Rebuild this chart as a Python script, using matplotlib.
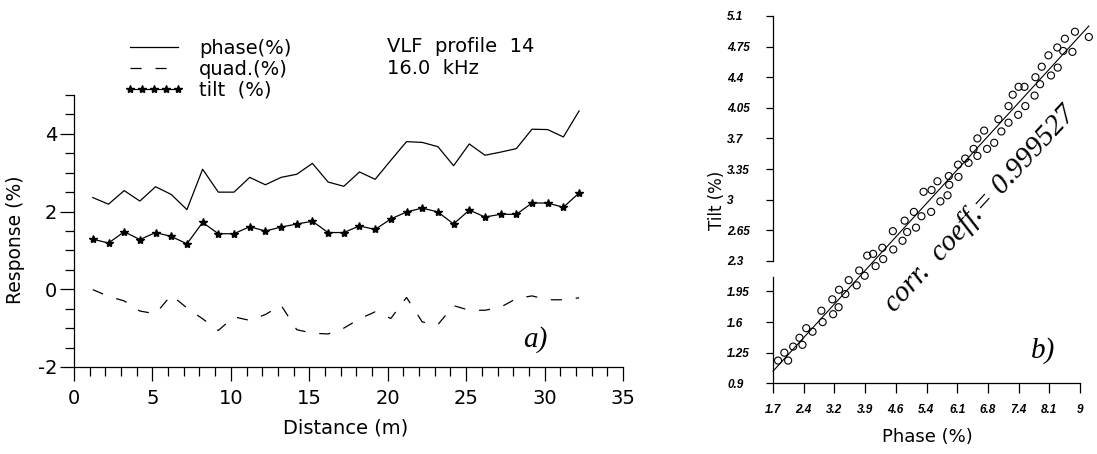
import numpy as np
import matplotlib
matplotlib.use("Agg")
import matplotlib.pyplot as plt
import matplotlib.transforms as mtransforms
from matplotlib.ticker import MultipleLocator

plt.rcParams['font.family'] = ['DejaVu Sans']
plt.rcParams['lines.scale_dashes'] = False
plt.rcParams['axes.unicode_minus'] = False

# panel a) - VLF profile 14, 16.0 kHz
distance = [1.2, 2.2, 3.2, 4.2, 5.2, 6.2, 7.2, 8.2, 9.2, 10.2, 11.2, 12.2, 13.2, 14.2, 15.2, 16.2,
            17.2, 18.2, 19.2, 20.2, 21.2, 22.2, 23.2, 24.2, 25.2, 26.2, 27.2, 28.2, 29.2, 30.2, 31.2, 32.2]
phase = [2.36, 2.19, 2.54, 2.27, 2.64, 2.44, 2.05, 3.09, 2.50, 2.50, 2.88, 2.69, 2.88, 2.96, 3.24, 2.76,
         2.65, 3.02, 2.83, 3.32, 3.80, 3.78, 3.67, 3.18, 3.74, 3.45, 3.53, 3.62, 4.12, 4.11, 3.92, 4.59]
quad = [-0.01, -0.18, -0.30, -0.56, -0.63, -0.15, -0.48, -0.76, -1.06, -0.71, -0.80, -0.65, -0.41, -1.04, -1.13, -1.15,
        -1.00, -0.76, -0.58, -0.75, -0.21, -0.84, -0.91, -0.42, -0.54, -0.54, -0.46, -0.24, -0.17, -0.27, -0.27, -0.22]
tilt = [1.29, 1.19, 1.48, 1.28, 1.46, 1.36, 1.17, 1.72, 1.43, 1.43, 1.61, 1.50, 1.60, 1.68, 1.75, 1.46,
        1.46, 1.63, 1.54, 1.81, 1.99, 2.09, 1.99, 1.68, 2.04, 1.86, 1.93, 1.93, 2.22, 2.22, 2.11, 2.48]

# panel b) - tilt vs phase scatter
phase_b = [1.82, 1.97, 2.06, 2.18, 2.33, 2.40, 2.49, 2.64, 2.85, 2.88, 3.11, 3.13, 3.27, 3.26, 3.42, 3.50,
           3.69, 3.75, 3.88, 3.94, 4.08, 4.14, 4.30, 4.32, 4.55, 4.56, 4.78, 4.83, 4.89, 5.05, 5.10, 5.23,
           5.28, 5.46, 5.47, 5.61, 5.68, 5.85, 5.88, 5.89, 6.11, 6.10, 6.27, 6.35, 6.47, 6.56, 6.56, 6.72,
           6.79, 6.96, 7.06, 7.13, 7.30, 7.30, 7.40, 7.53, 7.54, 7.70, 7.68, 7.92, 7.94, 8.05, 8.09, 8.31,
           8.25, 8.47, 8.46, 8.60, 8.64, 8.82, 8.88, 9.21]
tilt_b = [1.16, 1.25, 1.16, 1.32, 1.42, 1.34, 1.53, 1.49, 1.73, 1.60, 1.86, 1.69, 1.97, 1.77, 1.92, 2.08,
          2.02, 2.19, 2.13, 2.36, 2.38, 2.24, 2.45, 2.32, 2.64, 2.43, 2.53, 2.76, 2.63, 2.86, 2.68, 2.81,
          3.09, 2.86, 3.11, 3.21, 2.98, 3.05, 3.27, 3.17, 3.26, 3.40, 3.47, 3.42, 3.58, 3.50, 3.70, 3.79,
          3.58, 3.65, 3.92, 3.78, 3.88, 4.07, 4.20, 3.97, 4.29, 4.07, 4.29, 4.19, 4.40, 4.32, 4.52, 4.42,
          4.65, 4.51, 4.74, 4.70, 4.84, 4.69, 4.92, 4.86]
phase_tick_labels = ['1.7', '2.4', '3.2', '3.9', '4.6', '5.4', '6.1', '6.8', '7.4', '8.1', '9']
tilt_tick_labels = ['0.9', '1.25', '1.6', '1.95', '2.3', '2.65', '3', '3.35', '3.7', '4.05', '4.4', '4.75', '5.1']

fig = plt.figure(figsize=(10.97, 4.54), dpi=100)

# ---- panel a ----
ax1 = fig.add_axes([74/1097, 1-367/454, 549/1097, 272/454])
ax1.plot(distance, phase, color='black', lw=0.9, label='phase(%)')
ax1.plot(distance, quad, color='black', lw=0.9, dashes=(8, 10), label='quad.(%)')
ax1.plot(distance, tilt, color='black', lw=0.9, marker='*', ms=6, label='tilt  (%)')
ax1.set_xlim(0, 35)
ax1.set_ylim(-2, 5)
for s in ['top', 'right']:
    ax1.spines[s].set_visible(False)
ax1.spines['left'].set_linewidth(0.9)
ax1.spines['bottom'].set_linewidth(0.9)
ax1.xaxis.set_major_locator(MultipleLocator(5))
ax1.xaxis.set_minor_locator(MultipleLocator(1))
ax1.yaxis.set_major_locator(MultipleLocator(2))
ax1.yaxis.set_minor_locator(MultipleLocator(0.5))
ax1.tick_params(which='major', direction='out', length=10, width=0.9, labelsize=14, color='black')
ax1.tick_params(which='minor', direction='out', length=6.5, width=0.9)
ax1.tick_params(axis='y', pad=2)
ax1.tick_params(axis='x', pad=6)
ax1.set_xlabel('Distance (m)', fontsize=14)
ax1.set_ylabel('Response (%)', fontsize=13.5)
ax1.xaxis.set_label_coords(0.494, -0.191)
ax1.yaxis.set_label_coords(-0.089, 0.467)
ax1.text(0.84, 0.10, 'a)', transform=ax1.transAxes, fontsize=21, style='italic',
         family='Liberation Serif', ha='center', va='center')
ax1.legend(loc='upper left', bbox_to_anchor=(124/1097, 1-39/454), bbox_transform=fig.transFigure,
           frameon=False, fontsize=14, handlelength=3.1, handletextpad=0.75, labelspacing=0.1,
           borderpad=0, borderaxespad=0, numpoints=5)
fig.text(387/1097, 1-46/454, 'VLF  profile  14', fontsize=14, va='center')
fig.text(387/1097, 1-68/454, '16.0  kHz', fontsize=14, va='center')

# ---- panel b ----
ax2 = fig.add_axes([773/1097, 1-383.3/454, 307/1097, 367.3/454])
ax2.scatter(phase_b, tilt_b, s=26, facecolors='none', edgecolors='black', linewidths=0.8, clip_on=False)
coef = np.polyfit(phase_b, tilt_b, 1)
xs = np.array([1.7, max(phase_b)])
ax2.plot(xs, np.polyval(coef, xs), color='black', lw=0.8, clip_on=False)
phase_ticks = np.linspace(1.7, 9.0, len(phase_tick_labels))
tilt_ticks = np.linspace(0.9, 5.1, len(tilt_tick_labels))
ax2.set_xlim(1.7, 9.0)
ax2.set_ylim(0.9, 5.1)
ax2.set_xticks(phase_ticks)
ax2.set_xticklabels(phase_tick_labels)
ax2.set_yticks(tilt_ticks)
ax2.set_yticklabels(tilt_tick_labels)
for s in ['top', 'right']:
    ax2.spines[s].set_visible(False)
ax2.spines['left'].set_bounds(0.9, 2.12)
ax2.spines['left'].set_linewidth(0.9)
ax2.spines['bottom'].set_linewidth(0.9)
trans = mtransforms.blended_transform_factory(ax2.transAxes, ax2.transData)
ax2.plot([0, 0], [tilt_ticks[4], tilt_ticks[-1]], color='black', lw=0.9, transform=trans, clip_on=False)
ax2.tick_params(axis='x', direction='out', length=7, width=0.9, pad=8)
ax2.tick_params(axis='y', direction='out', length=5, width=0.9, pad=28)
for lab in ax2.get_xticklabels() + ax2.get_yticklabels():
    lab.set_fontsize(8.5)
    lab.set_fontstyle('italic')
    lab.set_fontweight('bold')
    lab.set_family('Liberation Sans')
for lab in ax2.get_yticklabels():
    lab.set_ha('left')
ax2.set_xlabel('Phase (%)', fontsize=13)
ax2.set_ylabel('Tilt (%)', fontsize=12)
ax2.xaxis.set_label_coords(0.502, -0.122)
ax2.yaxis.set_label_coords(-0.153, 0.499)
ax2.text(6.63, 2.90, 'corr.  coeff.= 0.999527', fontsize=21, style='italic', family='Liberation Serif',
         rotation=47.5, rotation_mode='anchor', ha='center', va='center')
ax2.text(0.88, 0.09, 'b)', transform=ax2.transAxes, fontsize=21, style='italic',
         family='Liberation Serif', ha='center', va='center')

fig.savefig('out.png', dpi=100)
